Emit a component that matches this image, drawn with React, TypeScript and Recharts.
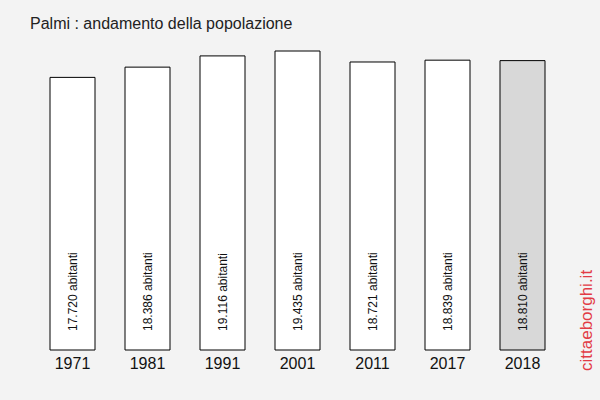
import React from "react";
import { Bar, BarChart, Cell, LabelList, XAxis, YAxis } from "recharts";

const years = ["1971", "1981", "1991", "2001", "2011", "2017", "2018"];
const population = [17720, 18386, 19116, 19435, 18721, 18839, 18810];
const highlightYear = "2018";

const data = years.map((year, i) => ({ year, value: population[i] }));

const FONT = "'Liberation Sans', Arial, sans-serif";

const fmt = (v: number) => v.toLocaleString("it-IT").replace(/,/g, ".") + " abitanti";

function BarLabel(props: any) {
  const { x, width, value } = props;
  const cx = x + width / 2 + 4;
  const y = 331;
  return (
    <text
      x={cx}
      y={y}
      transform={`rotate(-90, ${cx}, ${y})`}
      textAnchor="start"
      fontSize={12}
      fill="#111"
      fontFamily={FONT}
    >
      {fmt(value)}
    </text>
  );
}

export default function App() {
  return (
    <div style={{ position: "absolute", left: 0, top: 0, width: 600, height: 400, background: "#f3f3f3", fontFamily: FONT }}>
      <BarChart width={600} height={400} data={data} margin={{ top: 51, right: 40, left: 35, bottom: 20 }}>
        <text x={30} y={29} fontSize={16} fill="#222" fontFamily={FONT}>
          Palmi : andamento della popolazione
        </text>
        <text
          x={592}
          y={371}
          transform="rotate(-90, 592, 371)"
          textAnchor="start"
          fontSize={17}
          fill="#e23b45"
          fontFamily={FONT}
        >
          cittaeborghi.it
        </text>
        <XAxis
          dataKey="year"
          height={30}
          axisLine={false}
          tickLine={false}
          tick={{ fill: "#111", fontSize: 16, fontFamily: FONT }}
          interval={0}
        />
        <YAxis hide domain={[0, 19435]} />
        <Bar dataKey="value" barSize={45} stroke="#000" strokeWidth={1} isAnimationActive={false}>
          {data.map((d) => (
            <Cell key={d.year} fill={d.year === highlightYear ? "#d8d8d8" : "#ffffff"} />
          ))}
          <LabelList dataKey="value" content={<BarLabel />} />
        </Bar>
      </BarChart>
    </div>
  );
}
